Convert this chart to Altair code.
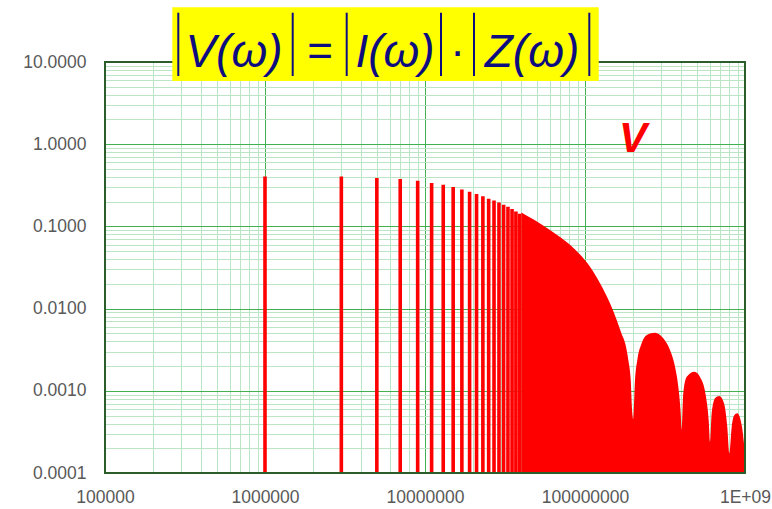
import altair as alt
import pandas as pd

# ---------------- data ----------------
# discrete harmonic spikes (odd multiples of 1 MHz), amplitude in V
spike_freq_mhz = [1, 3, 5, 7, 9, 11, 13, 15, 17, 19, 21, 23, 25, 27, 29, 31, 33, 35, 37, 39]
spike_amp = [0.406, 0.406, 0.388, 0.377, 0.360, 0.337, 0.322, 0.301, 0.282, 0.264,
             0.248, 0.232, 0.217, 0.207, 0.196, 0.184, 0.174, 0.163, 0.152, 0.143]

# envelope of the dense (merged) spectrum above ~40 MHz
env_freq_mhz = [40, 47.5, 60.4, 69.8, 80.6, 93.1, 107.5, 124.1, 143.3, 157.8, 169.5, 178.8,
                186.5, 193.1, 197.6, 200, 205.4, 212.3, 226, 243.2, 273.8, 308.5, 339.8, 365.2,
                383, 396.5, 401.9, 411.3, 432.3, 482, 535.8, 570.4, 593, 604, 619, 649.4,
                690.6, 739.1, 774.8, 798, 826, 853.4, 895.7, 953.4, 990, 1000]
env_val = [0.148, 0.122, 0.0904, 0.0745, 0.0600, 0.0455, 0.0323, 0.0203, 0.0116, 0.00727,
           0.0049, 0.0037, 0.00237, 0.00135, 0.000537, 0.00045, 0.00135, 0.00237, 0.00378,
           0.00477, 0.00509, 0.00435, 0.00313, 0.00196, 0.00112, 0.000532, 0.000334,
           0.000933, 0.00148, 0.00171, 0.00135, 0.000848, 0.000441, 0.00024, 0.000532,
           0.000811, 0.000865, 0.000705, 0.000366, 0.000174, 0.000366, 0.000498, 0.000532,
           0.000384, 0.000209, 0.000166]

x_domain = [1e5, 1e9]
y_domain = [1e-4, 10]
y_base = 1e-4

x_tick_values = [k * 10 ** e for e in range(5, 9) for k in range(1, 10)] + [1e9]
y_tick_values = [k * 10.0 ** e for e in range(-4, 1) for k in range(1, 10)] + [10.0]

# ---------------- styling ----------------
RED = "#ff0000"
MAJ = "#43b04f"
MIN = "#bce5c5"
BORDER = "#2b5e2b"
LABEL = "#595959"
NAVY = "#0d0d80"
FONT = "Liberation Sans"

spikes = pd.DataFrame({"f": [v * 1e6 for v in spike_freq_mhz], "v": spike_amp})
spikes["base"] = y_base
env = pd.DataFrame({"f": [v * 1e6 for v in env_freq_mhz], "v": env_val})
env["base"] = y_base
one = pd.DataFrame({"k": [0]})

is_dec = "abs(log(datum.value)/LN10 - round(log(datum.value)/LN10)) < 0.001"

xs = alt.Scale(type="log", domain=x_domain, nice=False)
ys = alt.Scale(type="log", domain=y_domain, nice=False)


def make_x_axis():
    return alt.Axis(
        values=x_tick_values,
        labelExpr=f"{is_dec} ? (datum.value >= 999999999 ? '1E+09' : format(datum.value, 'd')) : ''",
        grid=True,
        gridColor={"condition": {"test": is_dec, "value": MAJ}, "value": MIN},
        gridWidth=1,
        domain=False, ticks=False, title=None,
        labelFont=FONT, labelFontSize=17.5, labelColor=LABEL, labelPadding=15,
        labelOverlap=False, labelFlush=False,
    )


def make_y_axis():
    return alt.Axis(
        values=y_tick_values,
        labelExpr=f"{is_dec} ? format(datum.value, '.4f') : ''",
        grid=True,
        gridColor={"condition": {"test": is_dec, "value": MAJ}, "value": MIN},
        gridWidth=1,
        domain=False, ticks=False, title=None,
        labelFont=FONT, labelFontSize=17.5, labelColor=LABEL, labelPadding=19,
        labelOverlap=False, labelFlush=False,
    )


spike_layer = alt.Chart(spikes).mark_rule(color=RED, strokeWidth=3.6).encode(
    x=alt.X("f:Q", scale=xs, axis=make_x_axis()),
    y=alt.Y("v:Q", scale=ys, axis=make_y_axis()),
    y2="base:Q",
)

area_layer = alt.Chart(env).mark_area(color=RED, interpolate="monotone", opacity=1).encode(
    x=alt.X("f:Q", scale=xs, axis=make_x_axis()),
    y=alt.Y("v:Q", scale=ys, axis=make_y_axis()),
    y2="base:Q",
)

W, H = 640, 411

border = alt.Chart(one).mark_rect(filled=False, stroke=BORDER, strokeWidth=2).encode(
    x=alt.value(0), x2=alt.value(W), y=alt.value(0), y2=alt.value(H)
)

yellow = alt.Chart(one).mark_rect(color="#ffff00", opacity=1).encode(
    x=alt.value(67.3), x2=alt.value(493.7), y=alt.value(-54.7), y2=alt.value(19)
)


def txt(s, x, y, size, style="italic", weight="normal", color=NAVY):
    return alt.Chart(one).mark_text(
        text=s, font=FONT, fontSize=size, fontStyle=style, fontWeight=weight,
        color=color, align="center", baseline="alphabetic",
    ).encode(x=alt.value(x), y=alt.value(y))


def bar(x):
    return alt.Chart(one).mark_rule(color=NAVY, strokeWidth=2).encode(
        x=alt.value(x), y=alt.value(-49.3), y2=alt.value(14)
    )


formula = [
    txt("V(ω)", 129, 5, 46),
    txt("=", 215, 4, 44, style="normal"),
    txt("I(ω)", 290, 5, 46),
    txt("·", 352.7, 4, 44, style="normal"),
    txt("Z(ω)", 427, 5, 46),
] + [bar(x) for x in [73.3, 187.7, 241.7, 336, 369, 484.3]]

red_v = txt("V", 528, 90, 42, style="italic", weight="bold", color=RED)

chart = alt.layer(
    spike_layer, area_layer, border, yellow, *formula, red_v
).properties(
    width=W, height=H,
    padding={"left": 105, "top": 62, "right": 27, "bottom": 36},
    autosize="none",
).configure_view(stroke=None).configure(background="white")

chart.save("out.html", embed_options={"renderer": "svg", "actions": False})
